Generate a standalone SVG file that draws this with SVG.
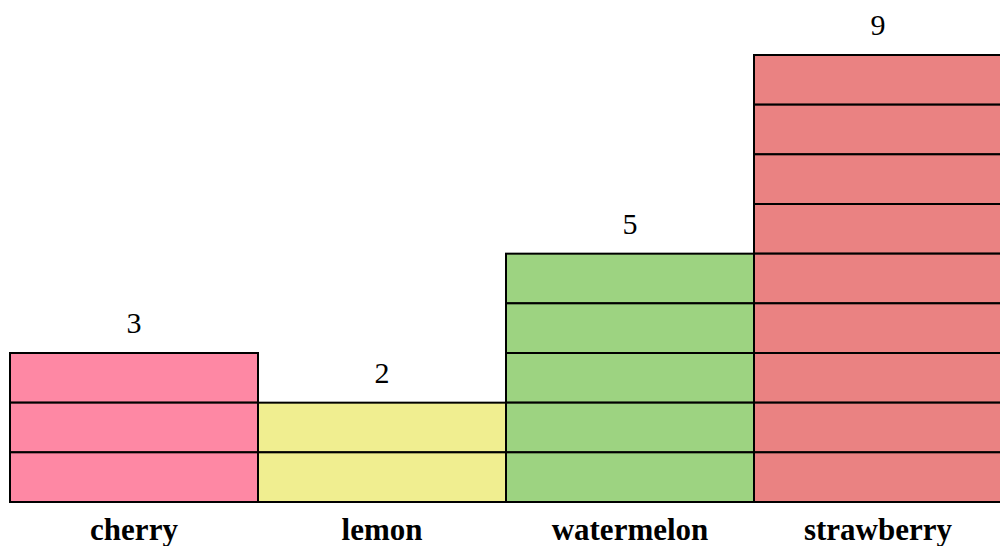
<svg xmlns="http://www.w3.org/2000/svg" width="1000" height="546" viewBox="0 0 1000 546">
<style>
.cell{stroke:#000;stroke-width:2}
.val{font-family:"Liberation Serif",serif;font-size:30px;text-anchor:middle;fill:#000}
.cat{font-family:"Liberation Serif",serif;font-size:31px;font-weight:bold;text-anchor:middle;fill:#000}
.cherry{fill:#fe88a4}
.lemon{fill:#f0ee90}
.watermelon{fill:#9dd381}
.strawberry{fill:#ea8282}
</style>
<rect width="1000" height="546" fill="#fff"/>
<g id="cherry">
<rect class="cell cherry" x="10" y="353" width="248" height="49.67"/>
<rect class="cell cherry" x="10" y="402.67" width="248" height="49.67"/>
<rect class="cell cherry" x="10" y="452.33" width="248" height="49.67"/>
<text class="val" x="134" y="333">3</text>
<text class="cat" x="134" y="540">cherry</text>
</g>
<g id="lemon">
<rect class="cell lemon" x="258" y="402.67" width="248" height="49.67"/>
<rect class="cell lemon" x="258" y="452.33" width="248" height="49.67"/>
<text class="val" x="382" y="383">2</text>
<text class="cat" x="382" y="540">lemon</text>
</g>
<g id="watermelon">
<rect class="cell watermelon" x="506" y="253.67" width="248" height="49.67"/>
<rect class="cell watermelon" x="506" y="303.33" width="248" height="49.67"/>
<rect class="cell watermelon" x="506" y="353" width="248" height="49.67"/>
<rect class="cell watermelon" x="506" y="402.67" width="248" height="49.67"/>
<rect class="cell watermelon" x="506" y="452.33" width="248" height="49.67"/>
<text class="val" x="630" y="234">5</text>
<text class="cat" x="630" y="540">watermelon</text>
</g>
<g id="strawberry">
<rect class="cell strawberry" x="754" y="55" width="248" height="49.67"/>
<rect class="cell strawberry" x="754" y="104.67" width="248" height="49.67"/>
<rect class="cell strawberry" x="754" y="154.33" width="248" height="49.67"/>
<rect class="cell strawberry" x="754" y="204" width="248" height="49.67"/>
<rect class="cell strawberry" x="754" y="253.67" width="248" height="49.67"/>
<rect class="cell strawberry" x="754" y="303.33" width="248" height="49.67"/>
<rect class="cell strawberry" x="754" y="353" width="248" height="49.67"/>
<rect class="cell strawberry" x="754" y="402.67" width="248" height="49.67"/>
<rect class="cell strawberry" x="754" y="452.33" width="248" height="49.67"/>
<text class="val" x="878" y="35">9</text>
<text class="cat" x="878" y="540">strawberry</text>
</g>
</svg>
